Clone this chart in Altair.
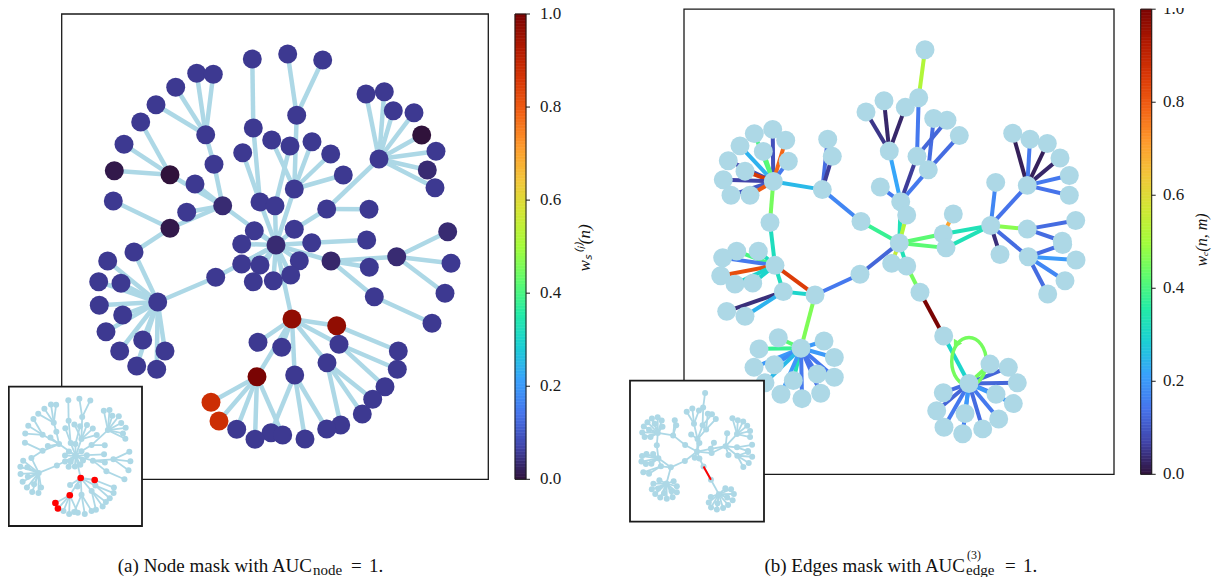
import altair as alt
import pandas as pd

# ---------------- colour map (matplotlib "turbo", sampled) ----------------
TURBO_COLORS = ["#30123b", "#4145ab", "#4675ed", "#39a2fc", "#1bcfd4", "#24eca6",
                "#61fc6c", "#a4fc3b", "#d1e834", "#f3c63a", "#fe9b2d", "#f36315",
                "#d93806", "#b11901", "#7a0403"]
TURBO_STOPS = [round(i / 14, 5) for i in range(15)]

# ---------------- graph (a): node layout + node mask ----------------
a_node = ["T1", "T2", "T3", "U1", "U2", "L0", "L1", "L2", "L3", "L4",
          "L5", "D0", "K0", "K1", "K2", "K3", "K4", "J0", "J1", "J2",
          "J3", "H", "P0", "P1", "P2", "P3", "P4", "P5", "P6", "P7",
          "P8", "P9", "P10", "P11", "Q", "C1", "C2", "C3", "C4", "M0",
          "C5", "C6", "C7", "C8", "R0", "R1", "R2", "R3", "R4", "R5",
          "R6", "R7", "R8", "R9", "R10", "S1", "S2", "S3", "S4", "S5",
          "S6", "S7", "S8", "S9", "S10", "S11", "V0", "V1", "V2", "V3",
          "V4", "V5", "V6", "V7", "E0", "E1", "E2", "E3", "E4", "E5",
          "E6", "E7", "F1", "F2", "F3", "F4", "F5", "F6", "F7", "G1",
          "G2", "G3", "G4", "G5", "G6", "G7"]
a_x = [252.3, 287.7, 322.7, 253.3, 296.7, 205.7, 196.7, 213.3, 175.7, 156.0,
       214.0, 222.7, 170.0, 140.7, 124.0, 114.3, 195.0, 170.0, 186.7, 113.3,
       134.0, 276.0, 157.7, 107.7, 98.7, 121.0, 99.3, 122.7, 106.0, 142.7,
       165.0, 119.7, 136.7, 156.7, 215.7, 260.0, 242.7, 290.0, 275.0, 294.3,
       271.7, 312.0, 330.7, 343.3, 379.0, 366.0, 384.3, 393.3, 414.0, 421.7,
       436.0, 427.3, 435.0, 326.7, 369.0, 294.3, 254.3, 241.7, 311.7, 241.7,
       260.0, 299.3, 253.3, 273.3, 290.7, 366.7, 331.0, 396.7, 369.3, 374.3,
       447.7, 451.0, 445.0, 432.0, 292.0, 258.0, 281.7, 257.0, 294.7, 336.7,
       339.0, 327.0, 398.3, 397.3, 385.0, 372.7, 362.3, 340.7, 326.7, 271.0,
       305.0, 211.0, 219.0, 236.7, 255.0, 282.7]
a_y = [59.0, 54.0, 60.0, 128.0, 115.3, 134.7, 73.3, 74.3, 87.3, 104.7,
       164.3, 205.7, 174.7, 122.0, 144.3, 170.7, 184.0, 228.3, 212.3, 201.0,
       252.0, 245.0, 302.0, 261.0, 281.7, 283.3, 305.3, 315.0, 331.7, 340.0,
       351.0, 351.0, 366.0, 369.3, 277.3, 202.0, 152.7, 146.0, 205.7, 189.0,
       140.0, 141.7, 154.0, 175.0, 159.0, 94.0, 91.7, 110.7, 112.7, 135.0,
       151.3, 170.0, 187.7, 209.0, 209.3, 229.3, 230.7, 244.0, 242.7, 264.0,
       265.0, 260.7, 281.7, 280.7, 275.0, 240.0, 261.0, 256.7, 267.3, 296.7,
       231.7, 263.3, 293.3, 323.3, 319.0, 342.3, 347.3, 376.7, 375.0, 325.7,
       344.3, 362.7, 351.0, 369.3, 386.7, 399.3, 414.0, 425.0, 429.0, 432.7,
       439.0, 402.3, 421.0, 429.3, 439.3, 435.0]
a_mask = [0.055, 0.055, 0.055, 0.055, 0.055, 0.055, 0.055, 0.055, 0.055, 0.055,
          0.055, 0.035, 0.0, 0.055, 0.055, 0.01, 0.055, 0.01, 0.055, 0.055,
          0.055, 0.035, 0.055, 0.055, 0.055, 0.055, 0.055, 0.055, 0.055, 0.055,
          0.055, 0.055, 0.055, 0.055, 0.055, 0.055, 0.055, 0.055, 0.055, 0.055,
          0.055, 0.055, 0.055, 0.055, 0.055, 0.055, 0.055, 0.055, 0.055, 0.0,
          0.055, 0.035, 0.055, 0.055, 0.055, 0.055, 0.055, 0.055, 0.055, 0.055,
          0.055, 0.055, 0.055, 0.055, 0.055, 0.055, 0.03, 0.035, 0.055, 0.055,
          0.035, 0.055, 0.055, 0.055, 0.97, 0.055, 0.055, 1.0, 0.055, 0.97,
          0.055, 0.055, 0.055, 0.055, 0.055, 0.055, 0.055, 0.055, 0.055, 0.055,
          0.055, 0.88, 0.88, 0.055, 0.055, 0.055]
a_src = ["T1", "T2", "T3", "U2", "U1", "C2", "C1", "C3", "C4", "C5", "C6", "C7", "C8", "M0",
         "L0", "L0", "L0", "L0", "L0", "L5",
         "K0", "K0", "K0", "K0", "K4", "D0", "D0", "D0", "J0", "J0", "J3",
         "P0", "P0", "P0", "P0", "P0", "P0", "P0", "P0", "P0", "P0", "P0", "P0", "Q",
         "R0", "R0", "R0", "R0", "R0", "R0", "R0", "R0", "R0", "R9", "R9", "S1",
         "H", "H", "H", "H", "H", "H", "H", "H", "H", "S4",
         "V0", "V0", "V0", "V0", "V1", "V1", "V1", "V3",
         "H", "E0", "E0", "E0", "E0", "E0", "E0", "E0",
         "E5", "E6", "E6", "E7", "E7", "E7", "E4", "E4", "E4",
         "E3", "E3", "E3", "E3", "E3"]
a_dst = ["U1", "U2", "U2", "M0", "C1", "C1", "H", "C4", "H", "M0", "M0", "M0", "M0", "H",
         "L1", "L2", "L3", "L4", "L5", "D0",
         "K1", "K2", "K3", "D0", "D0", "J1", "J0", "H", "J2", "J3", "P0",
         "P1", "P2", "P3", "P4", "P5", "P6", "P7", "P8", "P9", "P10", "P11", "Q", "H",
         "R1", "R2", "R3", "R4", "R5", "R6", "R7", "R8", "R9", "R10", "S1", "H",
         "S2", "S3", "S4", "S5", "S6", "S7", "S8", "S9", "S10", "S11",
         "H", "V1", "V2", "V3", "V4", "V5", "V6", "V7",
         "E0", "E1", "E2", "E3", "E4", "E5", "E6", "E7",
         "F1", "F2", "F3", "F4", "F5", "F6", "F7", "G1", "G2",
         "G3", "G4", "G5", "G6", "G7"]

# ---------------- graph (b): node layout + edge mask ----------------
b_node = ["N0", "N1", "A0", "A1", "A2", "A3", "B0", "B1", "B2", "B3",
          "B4", "C0", "C1", "C2", "H", "D0", "D1", "D2", "E0", "E1",
          "E2", "E3", "E4", "F0", "F1", "F2", "F3", "F4", "F5", "F6",
          "G0", "G1", "G2", "G3", "G4", "G5", "I0", "I1", "J0", "J1",
          "J2", "K0", "K1", "K2", "K3", "K4", "K5", "K6", "K7", "K8",
          "K9", "K10", "K11", "L0", "M0", "M1", "M2", "M3", "M4", "M5",
          "M6", "M7", "M8", "M9", "O0", "P0", "P1", "P2", "P3", "P4",
          "P5", "P6", "P7", "P8", "P9", "P10", "P11", "P12", "P13", "Q1",
          "Q2", "Q3", "Q4", "R0", "R1", "R2", "R3", "R4", "R5", "R6",
          "R7", "R8", "R9", "R10", "R11", "R12"]
b_x = [925.0, 918.7, 889.3, 884.0, 866.0, 905.3, 917.0, 933.7, 947.0, 959.3,
       928.3, 900.7, 880.3, 906.7, 899.3, 943.3, 953.3, 946.0, 990.7, 995.7,
       1027.3, 1075.7, 1062.3, 1027.3, 1012.7, 1030.0, 1047.3, 1060.0, 1069.3, 1069.3,
       1028.3, 1062.7, 1076.0, 1065.0, 1047.7, 1000.0, 861.0, 860.0, 822.3, 827.7,
       832.3, 773.3, 754.3, 772.7, 785.7, 740.0, 763.3, 788.3, 728.3, 745.0,
       723.3, 731.0, 750.0, 770.0, 775.0, 758.3, 736.7, 722.7, 720.7, 735.0,
       752.7, 783.3, 726.7, 745.0, 815.0, 801.0, 778.3, 759.0, 824.0, 834.3,
       754.0, 774.3, 765.0, 793.3, 817.3, 834.3, 781.0, 802.0, 820.7, 891.7,
       906.7, 920.0, 943.7, 969.0, 990.0, 1008.3, 1017.3, 996.0, 1013.3, 998.7,
       982.7, 962.7, 944.0, 936.7, 943.3, 965.0]
b_y = [44.3, 93.0, 147.0, 96.0, 107.3, 102.7, 152.3, 114.0, 115.7, 131.3,
       166.0, 198.3, 183.3, 211.7, 240.0, 231.0, 210.7, 245.0, 222.3, 178.7,
       226.0, 217.3, 238.3, 181.7, 129.0, 135.0, 139.3, 154.0, 171.7, 191.7,
       254.0, 241.7, 257.3, 278.3, 291.7, 251.7, 218.3, 271.7, 186.0, 135.0,
       152.3, 177.7, 129.3, 125.0, 136.0, 141.7, 147.3, 157.3, 156.7, 167.3,
       176.0, 191.7, 191.7, 219.3, 262.7, 248.3, 248.3, 255.0, 273.3, 281.7,
       280.7, 289.3, 309.3, 314.3, 292.7, 346.7, 336.0, 347.3, 339.3, 356.0,
       366.0, 363.3, 381.7, 379.3, 372.7, 376.0, 393.3, 397.7, 392.3, 260.7,
       263.3, 290.0, 334.3, 382.3, 362.7, 366.0, 381.7, 393.3, 402.7, 418.3,
       428.3, 433.3, 426.7, 410.0, 391.7, 412.7]
b_src = ["N0", "N1", "A0", "A0", "A0", "B1", "B2", "B3", "A0", "B0", "B4", "C1",
         "C0", "C2", "D1", "H", "H", "D0", "D2", "E0", "E0", "E0",
         "F0", "F0", "F0", "F0", "F0", "F0", "E2", "E2", "E0", "E0",
         "G0", "G0", "G0", "G0", "H", "I0", "J1", "J2", "J0",
         "K0", "K0", "K0", "K0", "K0", "K0", "K0", "K0", "K0", "K0", "K0", "K0", "L0",
         "M0", "M0", "M0", "M0", "M0", "M0", "M0", "M7", "M0", "M7", "M7",
         "O0", "I1", "O0",
         "P0", "P0", "P0", "P0", "P0", "P0", "P0", "P0", "P0", "P0", "P0", "P0", "P0",
         "H", "H", "Q2", "Q3", "Q4",
         "R0", "R0", "R0", "R0", "R0", "R0", "R0", "R0", "R0", "R0", "R0", "R0"]
b_dst = ["N1", "B0", "A1", "A2", "A3", "B4", "B0", "B4", "C0", "C0", "C0", "C0",
         "H", "H", "D0", "D0", "D2", "E0", "E0", "E1", "E2", "F0",
         "F1", "F2", "F3", "F4", "F5", "F6", "E3", "E4", "G0", "G5",
         "G1", "G2", "G3", "G4", "I0", "J0", "J0", "J0", "K0",
         "K1", "K2", "K3", "K4", "K5", "K6", "K7", "K8", "K9", "K10", "K11", "L0", "M0",
         "M1", "M2", "M3", "M4", "M5", "M6", "M7", "O0", "O0", "M8", "M9",
         "I1", "H", "P0",
         "P1", "P2", "P3", "P4", "P5", "P6", "P7", "P8", "P9", "P10", "P11", "P12", "P13",
         "Q1", "Q2", "Q3", "Q4", "R0",
         "R1", "R2", "R3", "R4", "R5", "R6", "R7", "R8", "R9", "R10", "R11", "R12"]
b_weight = [0.52, 0.15, 0.03, 0.05, 0.03, 0.13, 0.12, 0.13, 0.22, 0.06, 0.15, 0.15,
            0.33, 0.52, 0.70, 0.42, 0.42, 0.33, 0.33, 0.17, 0.47, 0.14,
            0.02, 0.15, 0.02, 0.03, 0.15, 0.14, 0.13, 0.13, 0.13, 0.04,
            0.13, 0.20, 0.17, 0.13, 0.38, 0.17, 0.13, 0.06, 0.25,
            0.40, 0.09, 0.78, 0.24, 0.42, 0.15, 0.08, 0.86, 0.07, 0.10, 0.80, 0.45, 0.32,
            0.32, 0.40, 0.15, 0.82, 0.30, 0.30, 0.32, 0.30, 0.85, 0.04, 0.24,
            0.15, 0.12, 0.46,
            0.42, 0.38, 0.20, 0.20, 0.20, 0.18, 0.25, 0.33, 0.14, 0.15, 0.20, 0.15, 0.14,
            0.55, 0.33, 0.45, 1.00, 0.30,
            0.45, 0.12, 0.12, 0.15, 0.20, 0.15, 0.13, 0.16, 0.15, 0.12, 0.13, 0.20]
b_loop_node = ["R0"]
b_loop_weight = [0.45]

CBAR_TICKS = [0.0, 0.2, 0.4, 0.6, 0.8, 1.0]
CBAR_LABELS = ["0.0", "0.2", "0.4", "0.6", "0.8", "1.0"]

# ---------------- tables ----------------
a_nodes = pd.DataFrame({"node": a_node, "x": a_x, "y": a_y, "w": a_mask})
pos_a = {n: (x, y) for n, x, y in zip(a_node, a_x, a_y)}
a_edges = pd.DataFrame({
    "x": [pos_a[s][0] for s in a_src], "y": [pos_a[s][1] for s in a_src],
    "x2": [pos_a[d][0] for d in a_dst], "y2": [pos_a[d][1] for d in a_dst]})

b_nodes = pd.DataFrame({"node": b_node, "x": b_x, "y": b_y})
pos_b = {n: (x, y) for n, x, y in zip(b_node, b_x, b_y)}
b_edges = pd.DataFrame({
    "x": [pos_b[s][0] for s in b_src], "y": [pos_b[s][1] for s in b_src],
    "x2": [pos_b[d][0] for d in b_dst], "y2": [pos_b[d][1] for d in b_dst],
    "w": b_weight})
b_loops = pd.DataFrame({"x": [pos_b[n][0] for n in b_loop_node],
                        "y": [pos_b[n][1] for n in b_loop_node], "w": b_loop_weight})
b_top = b_edges[b_edges["w"] == b_edges["w"].max()]

N_LEVELS = 150
cbar = pd.DataFrame({"v": [i / N_LEVELS for i in range(N_LEVELS)]})
cbar["v2"] = cbar["v"] + 1.0 / N_LEVELS
cbar["c"] = cbar["v"] + 0.5 / N_LEVELS
ticks = pd.DataFrame({"t": CBAR_TICKS, "label": CBAR_LABELS})
one = pd.DataFrame({"k": [0]})

# ---------------- layout (plot-area pixels) ----------------
A_DOM_X, A_DOM_Y = [61.7, 488.3], [14.0, 479.3]
B_DOM_X, B_DOM_Y = [684.0, 1114.0], [3.3, 474.3]
A_MAIN = ([53.7, 480.3], [6.0, 471.3])
A_INSET = ([0.8, 134.0], [378.7, 518.0])
B_MAIN = ([676.0, 1106.0], [1.2, 466.3])
B_INSET = ([622.0, 756.0], [372.7, 513.7])
A_CBAR = ([507.0, 518.0], [471.3, 6.0])
B_CBAR = ([1132.7, 1143.7], [466.3, 1.2])

SERIF = "Liberation Serif"


def sc(dom, rng):
    return alt.Scale(domain=dom, range=rng, nice=False, zero=False)


def cscale():
    return alt.Scale(domain=TURBO_STOPS, range=TURBO_COLORS, interpolate="rgb", clamp=True)


def edges(df, dx, dy, box, width, color=None, field=None):
    enc = dict(x=alt.X("x:Q", scale=sc(dx, box[0]), axis=None),
               y=alt.Y("y:Q", scale=sc(dy, box[1]), axis=None),
               x2=alt.X2("x2:Q"), y2=alt.Y2("y2:Q"))
    if field:
        enc["color"] = alt.Color(field + ":Q", scale=cscale(), legend=None)
        return alt.Chart(df).mark_rule(strokeWidth=width).encode(**enc)
    return alt.Chart(df).mark_rule(strokeWidth=width, color=color).encode(**enc)


def nodes(df, dx, dy, box, size, color=None, field=None):
    enc = dict(x=alt.X("x:Q", scale=sc(dx, box[0]), axis=None),
               y=alt.Y("y:Q", scale=sc(dy, box[1]), axis=None))
    if field:
        enc["color"] = alt.Color(field + ":Q", scale=cscale(), legend=None)
        return alt.Chart(df).mark_circle(size=size, opacity=1).encode(**enc)
    return alt.Chart(df).mark_circle(size=size, opacity=1, color=color).encode(**enc)


def frame(box, fill=None, width=1.2):
    kw = dict(stroke="#1a1a1a", strokeWidth=width)
    if fill:
        kw["fill"] = fill
    else:
        kw["fillOpacity"] = 0
    return alt.Chart(one).mark_rect(**kw).encode(
        x=alt.value(box[0][0]), x2=alt.value(box[0][1]),
        y=alt.value(box[1][0]), y2=alt.value(box[1][1]))


def colorbar(box, label_x):
    ys = sc([0, 1], box[1])
    bar = alt.Chart(cbar).mark_rect(strokeWidth=0.6).encode(
        x=alt.value(box[0][0]), x2=alt.value(box[0][1]),
        y=alt.Y("v:Q", scale=ys, axis=None), y2=alt.Y2("v2:Q"),
        color=alt.Color("c:Q", scale=cscale(), legend=None),
        stroke=alt.Stroke("c:Q", scale=cscale(), legend=None))
    outline = frame(([box[0][0], box[0][1]], [box[1][1], box[1][0]]), width=1.0)
    tick = alt.Chart(ticks).mark_rule(color="#1a1a1a", strokeWidth=1).encode(
        x=alt.value(box[0][1]), x2=alt.value(box[0][1] + 4),
        y=alt.Y("t:Q", scale=sc([0, 1], box[1]), axis=None))
    lab = alt.Chart(ticks).mark_text(font=SERIF, fontSize=17, align="left",
                                     baseline="middle", color="#1a1a1a").encode(
        x=alt.value(label_x), y=alt.Y("t:Q", scale=sc([0, 1], box[1]), axis=None),
        text="label:N")
    return [bar, outline, tick, lab]


def text(s, x, y, size=19, align="left", angle=0, italic=False, baseline="alphabetic"):
    kw = dict(font=SERIF, fontSize=size, align=align, baseline=baseline,
              color="#111111", text=s)
    if angle:
        kw["angle"] = angle
    if italic:
        kw["fontStyle"] = "italic"
    return alt.Chart(one).mark_text(**kw).encode(x=alt.value(x), y=alt.value(y))


layers = []
# ---- panel (a) ----
layers.append(frame(A_MAIN, width=1.3))
layers.append(edges(a_edges, A_DOM_X, A_DOM_Y, A_MAIN, 4.5, color="#add8e6"))
layers.append(nodes(a_nodes, A_DOM_X, A_DOM_Y, A_MAIN, 360, field="w"))
layers.append(frame(A_INSET, fill="white", width=1.8))
layers.append(edges(a_edges, A_DOM_X, A_DOM_Y, A_INSET, 1.8, color="#add8e6"))
layers.append(nodes(a_nodes, A_DOM_X, A_DOM_Y, A_INSET, 36, color="#add8e6"))
layers.append(nodes(a_nodes[a_nodes["w"] > 0.5], A_DOM_X, A_DOM_Y, A_INSET, 44, color="#ff0000"))
layers += colorbar(A_CBAR, 532)
layers.append(text("wₛ⁽ⁱ⁾(n)", 577, 240, size=17, align="center", angle=270,
                   italic=True, baseline="middle"))

# ---- panel (b) ----
layers.append(frame(B_MAIN, width=1.3))
layers.append(edges(b_edges, B_DOM_X, B_DOM_Y, B_MAIN, 4.0, field="w"))
loop_enc = dict(
    x=alt.X("x:Q", scale=sc(B_DOM_X, B_MAIN[0]), axis=None),
    y=alt.Y("y:Q", scale=sc(B_DOM_Y, B_MAIN[1]), axis=None),
    color=alt.Color("w:Q", scale=cscale(), legend=None))
layers.append(
    alt.Chart(b_loops).mark_point(
        shape="M0,-1 A0.72,1 0 1,1 0,1 A0.72,1 0 1,1 0,-1 Z",
        filled=False, strokeWidth=3.5, size=2300, yOffset=-22, opacity=1).encode(**loop_enc))
layers.append(
    alt.Chart(b_loops).mark_point(
        shape="triangle-right", filled=True, size=90, xOffset=-11, yOffset=-40,
        opacity=1).encode(**loop_enc))
layers.append(nodes(b_nodes, B_DOM_X, B_DOM_Y, B_MAIN, 360, color="#add8e6"))
layers.append(frame(B_INSET, fill="white", width=1.8))
layers.append(edges(b_edges, B_DOM_X, B_DOM_Y, B_INSET, 1.8, color="#add8e6"))
layers.append(nodes(b_nodes, B_DOM_X, B_DOM_Y, B_INSET, 36, color="#add8e6"))
layers.append(edges(b_top, B_DOM_X, B_DOM_Y, B_INSET, 2.0, color="#ff0000"))
layers += colorbar(B_CBAR, 1155)
layers.append(text("wₑ(n, m)", 1194, 232, size=16, align="center", angle=270,
                   italic=True, baseline="middle"))

# ---- captions ----
layers.append(text("(a) Node mask with AUC", 304, 564, align="right"))
layers.append(text("node", 305, 567, size=15))
layers.append(text("=", 343, 564))
layers.append(text("1.", 361, 564))
layers.append(text("(b) Edges mask with AUC", 957, 564, align="right"))
layers.append(text("(3)", 959, 551, size=12))
layers.append(text("edge", 958, 567, size=15))
layers.append(text("=", 997, 564))
layers.append(text("1.", 1015, 564))

chart = alt.layer(*layers).resolve_scale(
    x="independent", y="independent", color="independent", stroke="independent"
).properties(
    width=1204, height=569, padding=0,
    autosize=alt.AutoSizeParams(type="none"),
).configure_view(stroke=None)

chart.save("out.html", embed_options={"renderer": "svg", "actions": False})
